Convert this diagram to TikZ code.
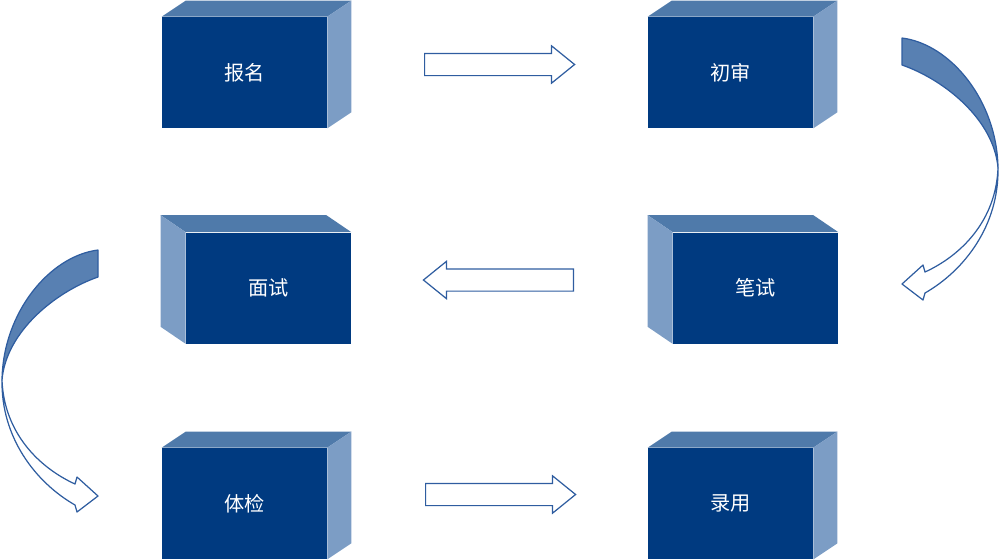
\documentclass[tikz,border=0pt]{standalone}
\usepackage{fontspec}
\newfontfamily\cjk{Noto Sans CJK SC}
\usetikzlibrary{calc,shapes.arrows}

\definecolor{boxfront}{RGB}{0,58,128}
\definecolor{boxtop}{RGB}{79,122,170}
\definecolor{boxside}{RGB}{124,157,197}
\definecolor{bendfill}{RGB}{88,128,178}
\definecolor{outline}{RGB}{47,93,160}

\tikzset{
  stage/.style={fill=boxfront, text=white, font=\cjk\fontsize{11.5}{13}\selectfont,
    minimum width=3.3cm, minimum height=2.22cm, inner sep=0pt},
  blockarrow/.style={single arrow, draw=outline, fill=white, line width=0.7pt,
    minimum height=3cm, inner xsep=0pt, inner ysep=0.21cm, single arrow head extend=0.15cm,
    single arrow tip angle=78, anchor=tail},
  topface/.style={fill=boxtop},
  sideface/.style={fill=boxside},
  curvedband/.style={draw=outline, line width=0.7pt, line join=round},
  bentarrow/.pic={
    \filldraw[curvedband, fill=bendfill] (902,38) .. controls (950,44) and (997,100) .. (998,168)
      .. controls (994,120) and (945,80) .. (902,65) -- cycle;
    \filldraw[curvedband, fill=white] (998,168) .. controls (999,225) and (965,270) .. (925,293)
      -- (923,300) -- (902,284) -- (923,265) -- (925,272)
      .. controls (962,255) and (996,220) .. (998,168) -- cycle;
  }
}

\begin{document}
\begin{tikzpicture}[x=0.02cm, y=-0.02cm]
	\useasboundingbox (0,0) rectangle (1000,559);
	\node[stage] (signup) at (244.5,72.5) {报名};
	\node[stage] (review) at (730.5,72.5) {初审};
	\node[stage] (interview) at (268.5,288) {面试};
	\node[stage] (written) at (755.5,288) {笔试};
	\node[stage] (medical) at (244.5,503.5) {体检};
	\node[stage] (hire) at (730.5,503.5) {录用};
	\foreach \b in {signup,review,medical,hire}{
		\fill[topface] (\b.north west) -- ++(24,-16) -- ($(\b.north east)+(24,-16)$) -- (\b.north east) -- cycle;
		\fill[sideface] (\b.north east) -- ++(24,-16) -- ($(\b.south east)+(24,-16)$) -- (\b.south east) -- cycle;
	}
	\foreach \b in {interview,written}{
		\fill[topface] (\b.north east) -- ++(-25,-17) -- ($(\b.north west)+(-25,-17)$) -- (\b.north west) -- cycle;
		\fill[sideface] (\b.north west) -- ++(-25,-17) -- ($(\b.south west)+(-25,-17)$) -- (\b.south west) -- cycle;
	}
	\node[blockarrow] (go1) at (424,64.5) {};
	\node[blockarrow, shape border rotate=180] (go2) at (574,280) {};
	\node[blockarrow] (go3) at (425,494.5) {};
	\pic at (0,0) {bentarrow};
	\pic[xscale=-1] at (1000,212) {bentarrow};
\end{tikzpicture}
\end{document}
